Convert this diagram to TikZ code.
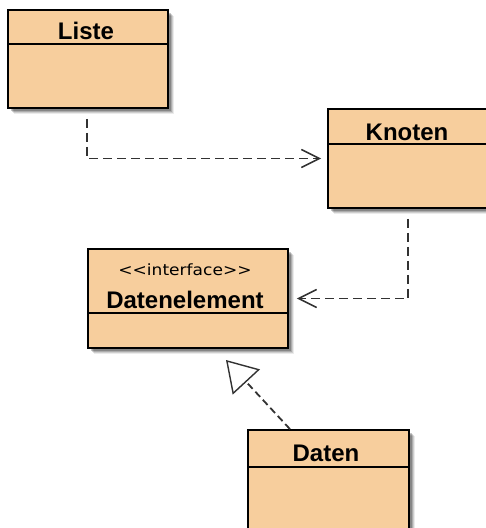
\documentclass[tikz,border=0pt]{standalone}
\usepackage{fontspec}
\setmainfont{Liberation Sans}
\newfontfamily\stereofont{DejaVu Sans}
\usetikzlibrary{arrows.meta,calc}

\definecolor{classfill}{RGB}{247,206,157}
\definecolor{linkgrey}{RGB}{50,50,50}

\tikzset{
  classbox/.style={draw=black, line width=1.7pt, fill=classfill, inner sep=0pt},
  classtitle/.style={font=\fontsize{24}{27}\selectfont\bfseries, inner sep=0pt},
  stereo/.style={font=\stereofont\fontsize{15.5}{18}\selectfont, inner sep=0pt},
  dep/.style={draw=linkgrey, line width=1.8pt, dash pattern=on 9pt off 5pt,
    -{Straight Barb[length=18pt, width=18pt, line width=1.6pt]}},
  realize/.style={draw=linkgrey, line width=1.8pt, dash pattern=on 7pt off 4pt,
    -{Triangle[open, length=30pt, width=37pt, line width=1.4pt, fill=white]}},
}

% soft grey shadow behind a class box, given its corners
\newcommand{\boxshadow}[2]{%
  \foreach \d/\o in {6/0.08,5/0.12,4/0.16,3/0.22}{%
    \fill[black, opacity=\o] ($#1+(\d,\d)$) rectangle ($#2+(\d,\d)$);}%
}

\begin{document}
\begin{tikzpicture}[x=1pt, y=-1pt]
\clip (0,0) rectangle (486,528);
\fill[white] (0,0) rectangle (486,528);

% shadows
\boxshadow{(8,10)}{(168,108)}
\boxshadow{(328,109)}{(492,208)}
\boxshadow{(88,249)}{(288,348)}
\boxshadow{(248,430)}{(409,540)}

% class boxes
\node[classbox, minimum width=160pt, minimum height=98pt] (liste) at (88,59) {};
\node[classbox, minimum width=164pt, minimum height=99pt] (knoten) at (410,158.5) {};
\node[classbox, minimum width=200pt, minimum height=99pt] (datenelement) at (188,298.5) {};
\node[classbox, minimum width=161pt, minimum height=110pt] (daten) at (328.5,485) {};

% compartment separators
\draw[line width=1.5pt] (8,44) -- (168,44);
\draw[line width=1.5pt] (328,144) -- (492,144);
\draw[line width=1.5pt] (88,313) -- (288,313);
\draw[line width=1.5pt] (248,467) -- (409,467);

% class names
\node[classtitle] (listeName) at (86,31) {Liste};
\node[classtitle] (knotenName) at (407,132) {Knoten};
\node[stereo] (datenelementStereo) at (185,270) {\scalebox{1.1}[1]{<<interface>>}};
\node[classtitle] (datenelementName) at (185,300) {Datenelement};
\node[classtitle] (datenName) at (326,453) {Daten};

% dependencies
\draw[dep, shorten <=10pt, shorten >=6pt] ([xshift=-1pt]liste.south) |- (knoten.west);
\draw[dep, shorten <=10pt, shorten >=8pt] ([xshift=-2pt]knoten.south) |- (datenelement.east);

% realization
\coordinate (realTip) at (226,360);
\draw[realize] ([xshift=-38.5pt]daten.north) -- (realTip);
\end{tikzpicture}
\end{document}
